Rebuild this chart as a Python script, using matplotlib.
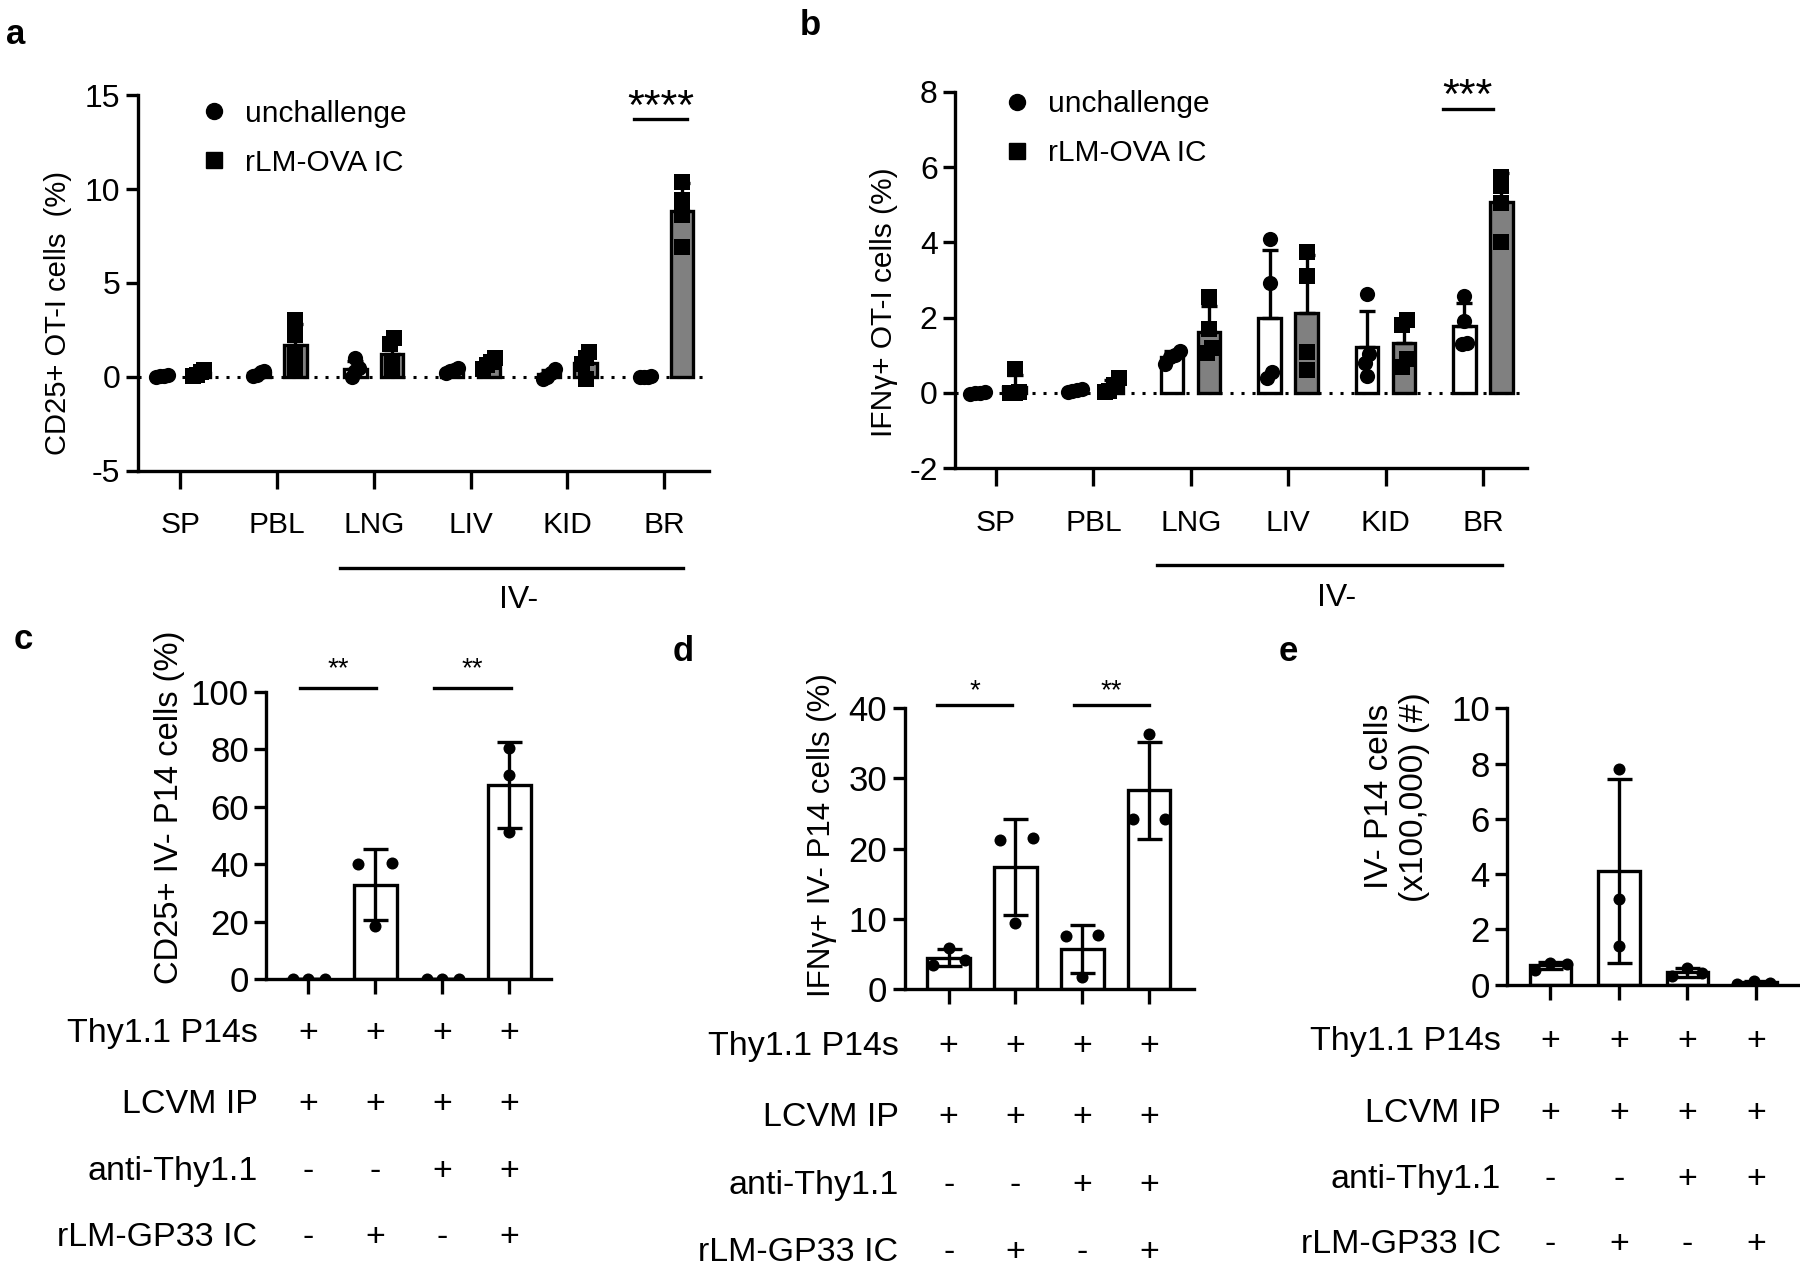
import matplotlib
matplotlib.use('Agg')
import matplotlib.pyplot as plt
import numpy as np
from matplotlib.transforms import blended_transform_factory
from matplotlib.lines import Line2D

plt.rcParams['font.family'] = ['Liberation Sans', 'DejaVu Sans']
plt.rcParams['axes.unicode_minus'] = False

# ---------------- data ----------------
organs = ['SP', 'PBL', 'LNG', 'LIV', 'KID', 'BR']
series_names = ['unchallenge', 'rLM-OVA IC']

a_unchallenge = [[0.05, 0.0, 0.1, 0.02],
                 [0.25, 0.1, 0.3, 0.05],
                 [1.0, 0.45, 0.0, 0.3],
                 [0.35, 0.45, 0.2, 0.3],
                 [0.4, 0.2, 0.0, -0.1],
                 [0.0, -0.02, 0.02, 0.0]]
a_rlm = [[0.35, 0.25, 0.1, 0.05],
         [3.0, 2.2, 1.2, 0.4],
         [2.05, 1.75, 0.8, 0.3],
         [1.0, 0.8, 0.6, 0.4],
         [1.3, 1.0, 0.7, -0.1],
         [10.4, 9.4, 8.6, 6.9]]

b_unchallenge = [[0.0, 0.02, -0.02, 0.01],
                 [0.05, 0.1, 0.03, 0.08],
                 [1.12, 1.0, 0.77, 0.95],
                 [4.08, 2.93, 0.55, 0.4],
                 [2.62, 1.03, 0.81, 0.46],
                 [2.58, 1.9, 1.34, 1.3]]
b_rlm = [[0.65, 0.02, 0.0, 0.0],
         [0.4, 0.2, 0.06, 0.02],
         [2.55, 1.7, 1.2, 1.05],
         [3.75, 3.1, 1.1, 0.6],
         [1.95, 1.8, 0.9, 0.7],
         [5.75, 5.5, 5.05, 4.0]]

c_values = [[0.0, 0.0, 0.0],
            [40.0, 40.3, 18.5],
            [0.0, 0.0, 0.0],
            [80.6, 71.1, 51.1]]
d_values = [[3.5, 5.9, 4.2],
            [21.2, 9.5, 21.5],
            [7.6, 1.75, 7.8],
            [24.3, 36.3, 24.3]]
e_values = [[0.55, 0.8, 0.76],
            [7.81, 3.11, 1.39],
            [0.32, 0.61, 0.41],
            [0.03, 0.15, 0.07]]

row_labels = ['Thy1.1 P14s', 'LCVM IP', 'anti-Thy1.1', 'rLM-GP33 IC']
row_signs = [['+', '+', '+', '+'],
             ['+', '+', '+', '+'],
             ['-', '-', '+', '+'],
             ['-', '+', '-', '+']]

a_ticks = [-5, 0, 5, 10, 15]
b_ticks = [-2, 0, 2, 4, 6, 8]
c_ticks = [0, 20, 40, 60, 80, 100]
d_ticks = [0, 10, 20, 30, 40]
e_ticks = [0, 2, 4, 6, 8, 10]

# ---------------- layout helpers ----------------
W, H = 1568.0, 1103.0
fig = plt.figure(figsize=(18, 12.66), dpi=100)


def frac(x0, x1, ytop, ybot):
    return [x0 / W, 1 - ybot / H, (x1 - x0) / W, (ybot - ytop) / H]


LW = 2.4
GREY = '#808080'


def style_axes(ax, ticks, lim, tick_fs):
    for s in ['top', 'right']:
        ax.spines[s].set_visible(False)
    for s in ['left', 'bottom']:
        ax.spines[s].set_linewidth(LW)
    ax.set_yticks(ticks)
    ax.set_ylim(lim)
    ax.tick_params(axis='both', width=LW, length=9, labelsize=tick_fs, direction='out')


def spread(vals, thresh, step):
    vals = np.asarray(vals, float)
    order = np.argsort(vals)
    offs = np.zeros(len(vals))
    groups, cur = [], [order[0]]
    for i in order[1:]:
        if vals[i] - vals[cur[-1]] < thresh:
            cur.append(i)
        else:
            groups.append(cur)
            cur = [i]
    groups.append(cur)
    for g in groups:
        k = len(g)
        for j, idx in enumerate(g):
            offs[idx] = (j - (k - 1) / 2) * step
    return offs


def grouped_panel(ax, unch, rlm, thresh, step):
    x = np.arange(len(organs))
    off = 0.19
    bw = 0.23
    for data, dx, face, mk in [(unch, -off, 'white', 'o'), (rlm, off, GREY, 's')]:
        means = np.array([np.mean(v) for v in data])
        sds = np.array([np.std(v, ddof=1) for v in data])
        ax.bar(x + dx, means, width=bw, color=face, edgecolor='black', linewidth=LW, zorder=2)
        ax.errorbar(x + dx, means, yerr=[np.zeros_like(sds), sds], fmt='none', ecolor='black',
                    elinewidth=LW, capsize=5.5, capthick=LW, zorder=3)
        for i, v in enumerate(data):
            o = spread(v, thresh, step)
            ax.scatter(x[i] + dx + o, v, s=120, marker=mk, color='black', zorder=4, linewidths=0)
    ax.axhline(0, color='black', lw=2.2, ls=(0, (1, 2.6)), zorder=1)
    ax.set_xticks(x)
    ax.set_xticklabels(organs)
    ax.tick_params(axis='x', length=13, pad=16, labelsize=21.5)


# ---------------- panel a ----------------
ax_a = fig.add_axes(frac(120, 618, 83, 410))
style_axes(ax_a, a_ticks, (-5, 15), 23)
ax_a.set_xlim(-0.44, 5.47)
grouped_panel(ax_a, a_unchallenge, a_rlm, 0.5, 0.04)
ax_a.set_ylabel('CD25+ OT-I cells  (%)', fontsize=21)
ax_a.yaxis.set_label_coords(-0.115, 0.42)

# ---------------- panel b ----------------
ax_b = fig.add_axes(frac(832, 1330, 80, 408))
style_axes(ax_b, b_ticks, (-2, 8), 23)
ax_b.set_xlim(-0.42, 5.45)
grouped_panel(ax_b, b_unchallenge, b_rlm, 0.25, 0.05)
ax_b.set_ylabel('IFNγ+ OT-I cells (%)', fontsize=21.5)
ax_b.yaxis.set_label_coords(-0.1, 0.44)

# legends
for ax, bx, by in [(ax_a, 0.06, 1.06), (ax_b, 0.035, 1.075)]:
    handles = [Line2D([], [], marker='o', color='black', ls='none', markersize=11.5),
               Line2D([], [], marker='s', color='black', ls='none', markersize=11.5)]
    ax.legend(handles, series_names, loc='upper left', bbox_to_anchor=(bx, by), frameon=False,
              fontsize=21.5, handletextpad=0.55, labelspacing=0.7, handlelength=1.0)

# significance + IV- brackets
for ax, y_line, y_star, stars, x0, x1, y_iv, y_ivtxt in [
        (ax_a, 13.76, 14.3, '****', 5 - 0.31, 5 + 0.24, -10.2, -11.9),
        (ax_b, 7.55, 7.85, '***', 5 - 0.41, 5 + 0.1, -4.58, -5.45)]:
    ax.plot([x0, x1], [y_line, y_line], color='black', lw=LW, clip_on=False)
    ax.text((x0 + x1) / 2, y_star, stars, ha='center', va='center', fontsize=31)
    ax.plot([2 - 0.35, 5 + 0.2], [y_iv, y_iv], color='black', lw=LW, clip_on=False)
    ax.text(3.5, y_ivtxt, 'IV-', ha='center', va='center', fontsize=23)

# ---------------- panels c, d, e ----------------
jit_c = [[-0.23, 0.0, 0.25], [-0.25, 0.25, 0.0], [-0.23, 0.0, 0.25], [0.0, 0.0, 0.0]]
jit_d = [[-0.23, 0.0, 0.25], [-0.23, 0.0, 0.26], [-0.24, 0.0, 0.24], [-0.24, 0.0, 0.24]]
jit_e = [[-0.22, 0.0, 0.24], [0.0, 0.0, 0.0], [-0.22, 0.0, 0.21], [-0.27, -0.03, 0.2]]


def simple_panel(ax, vals, jit, bw, ticks, lim, ylabel, ylab_xy, ylab_fs, rows_y, row_lx, sig):
    style_axes(ax, ticks, lim, 25)
    x = np.arange(len(vals))
    means = np.array([np.mean(v) for v in vals])
    sds = np.array([np.std(v, ddof=1) for v in vals])
    ax.bar(x, means, width=bw, color='white', edgecolor='black', linewidth=LW, zorder=2)
    ax.errorbar(x, means, yerr=sds, fmt='none', ecolor='black', elinewidth=LW,
                capsize=9, capthick=LW, zorder=3)
    for i, v in enumerate(vals):
        ax.scatter(x[i] + np.array(jit[i]), v, s=75, color='black', zorder=4, linewidths=0)
    ax.set_xticks(x)
    ax.set_xticklabels([])
    ax.tick_params(axis='x', length=11)
    ax.set_ylabel(ylabel, fontsize=ylab_fs)
    ax.yaxis.set_label_coords(*ylab_xy)
    tr = blended_transform_factory(ax.transData, fig.transFigure)
    for r, (lab, signs) in enumerate(zip(row_labels, row_signs)):
        yf = 1 - rows_y[r] / H
        ax.text(row_lx, yf, lab, transform=tr, ha='right', va='center', fontsize=24.5)
        for i, s in enumerate(signs):
            ax.text(x[i], yf, s, transform=tr, ha='center', va='center', fontsize=24.5)
    for (i, j, txt, yl, ys, l0, l1) in sig:
        ax.plot([i + l0, j + l1], [yl, yl], color='black', lw=LW, clip_on=False)
        ax.text((i + l0 + j + l1) / 2, ys, txt, ha='center', va='bottom', fontsize=20)


ax_c = fig.add_axes(frac(232, 480, 603, 853))
ax_c.set_xlim(-0.62, 3.62)
simple_panel(ax_c, c_values, jit_c, 0.64, c_ticks, (0, 100), 'CD25+ IV- P14 cells (%)',
             (-0.285, 0.6), 23.5, [900, 962, 1021, 1078], -0.75,
             [(0, 1, '**', 101.5, 103.5, -0.12, 0.02), (2, 3, '**', 101.5, 103.5, -0.12, 0.02)])

ax_d = fig.add_axes(frac(788, 1040, 617, 862))
ax_d.set_xlim(-0.66, 3.67)
simple_panel(ax_d, d_values, jit_d, 0.64, d_ticks, (0, 40), 'IFNγ+ IV- P14 cells (%)',
             (-0.235, 0.55), 22.5, [912, 974, 1033, 1091], -0.75,
             [(0, 1, '*', 40.5, 40.6, -0.17, -0.05), (2, 3, '**', 40.5, 40.6, -0.13, 0.0)])

ax_e = fig.add_axes(frac(1313, 1566, 617, 858))
ax_e.set_xlim(-0.63, 3.61)
simple_panel(ax_e, e_values, jit_e, 0.61, e_ticks, (0, 10), 'IV- P14 cells\n(x100,000) (#)',
             (-0.265, 0.68), 24, [907, 970, 1028, 1084], -0.72, [])

# panel letters
for lab, (px, py) in zip('abcde', [(14, 30), (706, 22), (20, 557), (595, 568), (1122, 568)]):
    fig.text(px / W, 1 - py / H, lab, fontsize=25, fontweight='bold', ha='center', va='center')

fig.savefig('out.png', dpi=100)
